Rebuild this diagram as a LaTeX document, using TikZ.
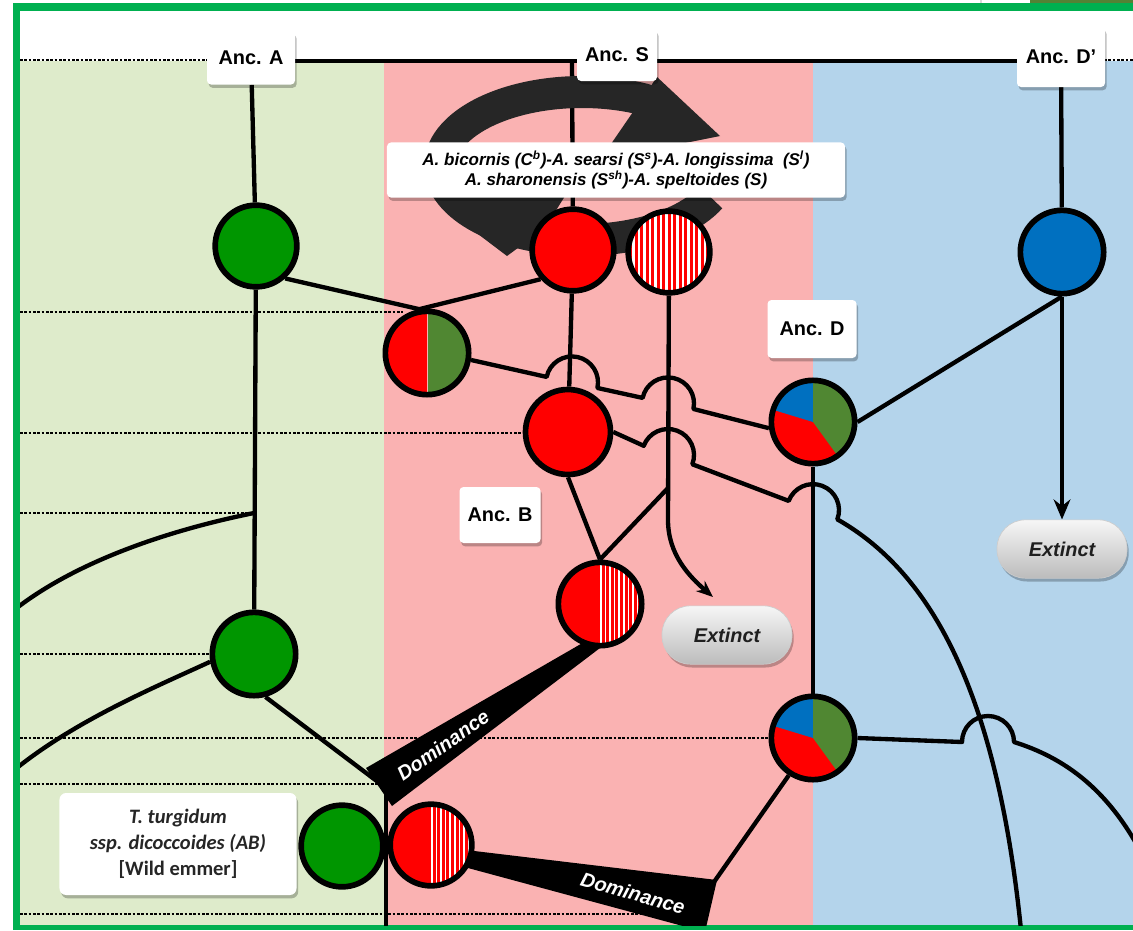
\documentclass[tikz,border=0pt]{standalone}
\usepackage{fontspec}
\setmainfont{Liberation Sans}
\newfontfamily\calib{Carlito}
\usetikzlibrary{calc,arrows.meta,shadows}
\pgfdeclarelayer{bg}
\pgfdeclarelayer{mid}
\pgfsetlayers{bg,mid,main}
\definecolor{frameG}{RGB}{0,176,80}
\definecolor{bandG}{RGB}{222,235,203}
\definecolor{bandR}{RGB}{250,178,178}
\definecolor{bandB}{RGB}{180,212,235}
\definecolor{cG}{RGB}{0,150,0}
\definecolor{cO}{RGB}{80,135,50}
\definecolor{cR}{RGB}{255,0,0}
\definecolor{cB}{RGB}{0,112,192}
\definecolor{arrowK}{RGB}{38,38,38}
\definecolor{pillTop}{RGB}{246,246,246}
\definecolor{pillBot}{RGB}{188,188,188}
\definecolor{oliveTop}{RGB}{84,130,53}
\begin{document}
\begin{tikzpicture}[x=0.03cm,y=0.03cm,
  conn/.style={line width=0.13cm, line join=round},
  dots/.style={line width=0.085cm, dash pattern=on 0.08cm off 0.05cm},
  circ/.style={circle, draw=black, line width=0.17cm, minimum size=2.45cm, inner sep=0pt},
  shad/.style={drop shadow={shadow xshift=0.05cm, shadow yshift=-0.1cm, fill=black, opacity=0.25}},
  ancbox/.style={shad, fill=white, rounded corners=0.12cm, inner sep=0pt, font=\bfseries\fontsize{17}{20}\selectfont},
  spbox/.style={shad, fill=white, rounded corners=0.12cm, inner sep=0pt, align=center, minimum width=13.74cm, minimum height=1.65cm, font=\bfseries\itshape\fontsize{14.5}{17}\selectfont},
  ttbox/.style={shad, fill=white, rounded corners=0.2cm, inner sep=0pt, align=center, minimum width=7.11cm, minimum height=3.06cm, font=\calib\bfseries\fontsize{17.5}{22}\selectfont, text=black!85},
  pill/.style={shad, rounded corners=0.85cm, top color=pillTop, bottom color=pillBot, draw=black!20, line width=0.02cm, minimum width=3.9cm, minimum height=1.75cm, inner sep=0pt, font=\bfseries\itshape\fontsize{17}{20}\selectfont, text=black!88},
  domtxt/.style={text=white, inner sep=0pt, font=\bfseries\itshape\fontsize{17}{20}\selectfont},
  pie/.style={circ, fill=cR, path picture={
      \fill[cB] (path picture bounding box.center) -- ++(90:50) arc[start angle=90, end angle=163, radius=50] -- cycle;
      \fill[cO] (path picture bounding box.center) -- ++(90:50) arc[start angle=90, end angle=-54, radius=50] -- cycle;}},
  halfRG/.style={circ, fill=cR, path picture={
      \fill[cO] (path picture bounding box.north) rectangle (path picture bounding box.south east);
      \draw[bandR, line width=0.03cm] (path picture bounding box.north) -- (path picture bounding box.south);}},
  stripes/.style={circ, fill=white, path picture={
      \foreach \k in {-8,...,8}
        \fill[cR] ($(path picture bounding box.center)+(\k*5.5-1.5,-50)$) rectangle ++(3,100);}},
  hstripes/.style={circ, fill=cR, path picture={
      \foreach \k in {0,...,9}
        \fill[white] ($(path picture bounding box.center)+(\k*4.6,-50)$) rectangle ++(1.6,100);}}
]
\useasboundingbox (0,0) rectangle (1133,-930);

% ---------- nodes ----------
\node[ancbox, minimum width=2.64cm, minimum height=1.59cm] (AncA) at (251,-58) {Anc. A};
\node[ancbox, minimum width=2.4cm, minimum height=1.56cm] (AncS) at (617,-55) {Anc. S};
\node[ancbox, minimum width=2.64cm, minimum height=1.8cm] (AncDp) at (1061,-57) {Anc. D'};
\node[ancbox, minimum width=2.67cm, minimum height=1.74cm] (AncD) at (812,-329) {Anc. D};
\node[ancbox, minimum width=2.43cm, minimum height=1.68cm] (AncB) at (500,-515) {Anc. B};
\node[spbox] (species) at (616,-170) {A. bicornis (C\textsuperscript{b})-A. searsi (S\textsuperscript{s})-A. longissima\ \ (S\textsuperscript{l})\\A. sharonensis (S\textsuperscript{sh})-A. speltoides (S)};
\node[ttbox] (tt) at (178,-844) {\itshape T. turgidum\\\itshape ssp. dicoccoides (AB)\\{[}Wild emmer{]}};
\node[pill] (ext1) at (727,-635) {Extinct};
\node[pill] (ext2) at (1062,-549) {Extinct};

\node[circ, fill=cG] (A1) at (256,-246) {};
\node[circ, fill=cR] (S1) at (573,-250) {};
\node[stripes] (S2) at (669,-252) {};
\node[circ, fill=cB, minimum size=2.5cm] (Dp) at (1062,-252) {};
\node[halfRG, minimum size=2.5cm] (AS) at (427,-353) {};
\node[circ, fill=cR, minimum size=2.55cm] (B) at (568,-432) {};
\node[pie, minimum size=2.5cm] (D1) at (813,-422) {};
\node[circ, fill=cG, minimum size=2.5cm] (A2) at (254,-654) {};
\node[hstripes, minimum size=2.5cm] (B1) at (600,-604) {};
\node[pie, minimum size=2.5cm] (D2) at (813,-738) {};
\node[circ, fill=cG] (A3) at (342,-846) {};
\node[hstripes] (B2) at (431,-845) {};

% ---------- background ----------
\begin{pgfonlayer}{bg}
\fill[white] (0,0) rectangle (1133,-930);
\fill[black!15] (980,0) rectangle (981.5,-3);
\fill[oliveTop] (1030,0) rectangle (1133,-3);
\fill[frameG] (13,-3) rectangle (1133,-930);
\fill[white] (20,-11) rectangle (1133,-925);
\fill[bandG] (20,-61) rectangle (384,-925);
\fill[bandR] (384,-61) rectangle (813,-925);
\fill[bandB] (813,-61) rectangle (1133,-925);
\draw[dots] (20,-60) -- (208,-60);
\draw[dots] (1104,-60) -- (1133,-60);
\draw[dots] (20,-312) -- (403,-312);
\draw[dots] (20,-433) -- (525,-433);
\draw[dots] (20,-513) -- (252,-513);
\draw[dots] (20,-654) -- (212,-654);
\draw[dots] (20,-738) -- (775,-738);
\draw[dots] (20,-784) -- (392,-784);
\draw[dots] (20,-914) -- (700,-914);
\end{pgfonlayer}

% ---------- connectors ----------
\begin{pgfonlayer}{mid}
\begin{scope}
\clip (20,-11) rectangle (1133,-925);
\coordinate (sTop) at (572,-61);
\coordinate (brA) at (254,-513);
\coordinate (brAend) at (18,-607);
\coordinate (A2end) at (18,-767);
\coordinate (jn) at (386,-788);
\coordinate (jb) at (386,-935);
\coordinate (s2a) at (668,-520);
\coordinate (s2j) at (668,-488);
\coordinate (extTip) at (713,-597);
\coordinate (wR) at (714,-882);

\draw[conn] ([yshift=-0.09cm]AncA.east) -- ([yshift=-0.12cm]AncDp.west);
\draw[conn] (sTop) -- (S1);
% big circular arrow
\fill[arrowK] (445,-196) -- (565,-196) -- (545,-228) -- (507,-256) -- (470,-228) -- cycle;
\draw[arrowK, line width=0.96cm] ($(582,-166)+(-25:142 and 74)$) arc[start angle=-25, end angle=-300, x radius=142, y radius=74];
\fill[arrowK] (657,-77) -- (720,-136) -- (600,-160) -- cycle;

\draw[conn] (AncA) -- (A1);
\draw[conn] (A1) -- (A2);
\draw[conn] (brA) .. controls (170,-530) and (80,-560) .. (brAend);
\draw[conn] (A2.190) .. controls (160,-685) and (80,-718) .. (A2end);
\draw[conn] (A2.-75) -- (jn);
\draw[conn] (jn) -- (jb);
\draw[conn] (A1.-48) -- (AS.100);
\draw[conn] (S1.222) -- (AS.100);
\draw[conn] (S1) -- (B);
\draw[conn] (AS.-9) -- (546.6,-376.9) arc[start angle=167.7, end angle=-12.3, radius=26]
   -- (642.6,-397.9) arc[start angle=167.7, end angle=-12.3, radius=26] -- (D1.188);
\draw[conn, -{Stealth[length=0.5cm, width=0.4cm]}] (S2) -- (s2a) .. controls (668,-555) and (690,-577) .. (extTip);
\draw[conn] (B1.north) -- (s2j);
\draw[conn] (B.south) -- (B1.north);
\draw[conn] (B.east) -- (643.7,-445.8) arc[start angle=159.2, end angle=-20.8, radius=26]
   -- (788.7,-500.9) arc[start angle=159.2, end angle=-20.8, radius=26]
   .. controls (930,-572) and (998,-690) .. (1022,-940);
\draw[conn] (D1) -- (D2);
\draw[conn] (Dp.south) -- (D1.east);
\draw[conn] (AncDp) -- (Dp);
\draw[conn, -{Stealth[length=0.6cm, width=0.5cm]}] (Dp) -- (ext2);
\draw[conn] (D2.east) -- (962,-742) arc[start angle=180, end angle=0, radius=26]
   .. controls (1065,-758) and (1110,-790) .. (1145,-860);
\draw[conn] (D2.-123) -- (wR);

% dominance wedges
\fill[black] (586,-641) -- (600,-648) -- (392,-806) -- (366,-768) -- cycle;
\node[domtxt, rotate=35] (dom1) at (443,-745) {Dominance};
\fill[black] (466,-850) -- (717,-880) -- (705,-932) -- (468,-868) -- cycle;
\node[domtxt, rotate=-16] (dom2) at (633,-893) {Dominance};
\end{scope}
\end{pgfonlayer}
\end{tikzpicture}
\end{document}
